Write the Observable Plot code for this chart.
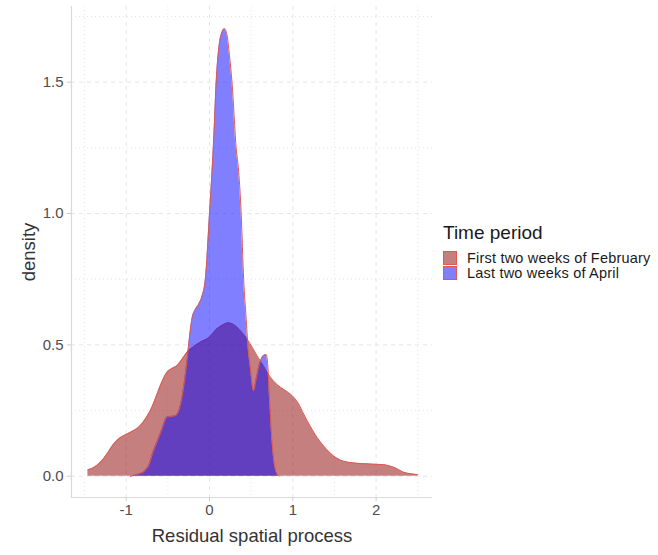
<!DOCTYPE html>
<html>
<head>
<meta charset="utf-8">
<script src="https://cdn.jsdelivr.net/npm/d3@7"></script>
<script src="https://cdn.jsdelivr.net/npm/@observablehq/plot@0.6"></script>
<style>
  html, body { margin: 0; padding: 0; background: #fff; }
  #wrap { position: relative; width: 658px; height: 555px; font-family: "Liberation Sans", Arial, sans-serif; }
  #legend { position: absolute; left: 443px; top: 222px; color: #1a1a1a; }
  #legend .title { font-size: 19px; line-height: 22px; margin-bottom: 7px; }
  #legend .row { display: flex; align-items: center; height: 14.5px; font-size: 14.5px; line-height: 14.5px; letter-spacing: 0.2px; }
  #legend .key { width: 12px; height: 12px; border: 1px solid #e0584e; margin-right: 10px; }
</style>
</head>
<body>
<div id="wrap"></div>
<script>
const seriesNames = ["First two weeks of February", "Last two weeks of April"];
const seriesFills = ["#8b0000", "#0000ff"];
const outlineColor = "#e0584e";

const febX = [-1.46,-1.38,-1.31,-1.23,-1.15,-1.08,-1.0,-0.92,-0.83,-0.77,-0.71,-0.65,-0.59,-0.51,-0.45,-0.39,-0.33,-0.27,-0.19,-0.11,0,0.09,0.16,0.23,0.28,0.33,0.39,0.45,0.51,0.57,0.65,0.73,0.79,0.85,0.93,1.01,1.07,1.13,1.21,1.29,1.37,1.45,1.53,1.61,1.71,1.81,1.95,2.09,2.15,2.21,2.27,2.33,2.42,2.50];
const febY = [0.024,0.035,0.053,0.085,0.123,0.145,0.159,0.172,0.193,0.218,0.25,0.295,0.345,0.396,0.410,0.421,0.445,0.472,0.493,0.51,0.529,0.561,0.576,0.584,0.579,0.567,0.547,0.523,0.492,0.459,0.418,0.377,0.355,0.339,0.322,0.301,0.275,0.237,0.19,0.148,0.115,0.088,0.068,0.057,0.051,0.048,0.046,0.044,0.04,0.034,0.025,0.015,0.009,0.006];

const aprX = [-0.95,-0.85,-0.77,-0.73,-0.68,-0.63,-0.57,-0.51,-0.45,-0.40,-0.35,-0.31,-0.27,-0.24,-0.21,-0.17,-0.13,-0.09,-0.05,0.0,0.03,0.05,0.08,0.12,0.15,0.18,0.21,0.24,0.27,0.32,0.35,0.38,0.41,0.44,0.46,0.49,0.53,0.56,0.59,0.65,0.68,0.70,0.72,0.75,0.79,0.83];
const aprY = [0,0.008,0.022,0.04,0.09,0.13,0.18,0.225,0.228,0.232,0.27,0.34,0.44,0.53,0.60,0.635,0.655,0.685,0.75,1.0,1.16,1.28,1.5,1.65,1.69,1.703,1.68,1.6,1.5,1.25,1.16,1.0,0.75,0.6,0.5,0.415,0.326,0.37,0.415,0.46,0.463,0.42,0.3,0.136,0.028,0];

const xTicks = [-1, 0, 1, 2];
const yTicks = [0, 0.5, 1, 1.5];
const xMinor = [-1.5, -0.5, 0.5, 1.5, 2.5];
const yMinor = [0.25, 0.75, 1.25, 1.75];
const xDomain = [-1.657, 2.677];
const yDomain = [-0.081, 1.788];

const feb = febX.map((x, i) => ({x, y: febY[i]}));
const apr = aprX.map((x, i) => ({x, y: aprY[i]}));

const grid = "#e6e6e6";
const chart = Plot.plot({
  width: 658, height: 555,
  marginLeft: 71, marginRight: 226, marginTop: 6, marginBottom: 58,
  style: {fontFamily: "Liberation Sans, Arial, sans-serif", background: "#fff"},
  x: {domain: xDomain},
  y: {domain: yDomain},
  marks: [
    Plot.ruleX(xMinor, {stroke: grid, strokeDasharray: "1,3", strokeWidth: 1}),
    Plot.ruleY(yMinor, {stroke: grid, strokeDasharray: "1,3", strokeWidth: 1}),
    Plot.ruleX(xTicks, {stroke: grid, strokeDasharray: "4,4", strokeWidth: 1}),
    Plot.ruleY(yTicks, {stroke: grid, strokeDasharray: "4,4", strokeWidth: 1}),
    Plot.areaY(feb, {x: "x", y: "y", fill: seriesFills[0], fillOpacity: 0.5, curve: "monotone-x"}),
    Plot.lineY(feb, {x: "x", y: "y", stroke: outlineColor, strokeWidth: 1, curve: "monotone-x"}),
    Plot.areaY(apr, {x: "x", y: "y", fill: seriesFills[1], fillOpacity: 0.5, curve: "monotone-x"}),
    Plot.lineY(apr, {x: "x", y: "y", stroke: outlineColor, strokeWidth: 1, curve: "monotone-x"}),
    Plot.ruleX([xDomain[0]], {stroke: "#d9d9d9", strokeWidth: 1.2}),
    Plot.ruleY([yDomain[0]], {stroke: "#d9d9d9", strokeWidth: 1.2}),
    Plot.axisX(xTicks, {tickSize: 4, tickPadding: 3, stroke: "#cccccc", fill: "#4d4d4d", fontSize: 15, tickFormat: d => `${d}`, label: null}),
    Plot.axisY(yTicks, {tickSize: 4, tickPadding: 4, stroke: "#cccccc", fill: "#4d4d4d", fontSize: 15, tickFormat: d => d.toFixed(1), label: null}),
    Plot.text(["Residual spatial process"], {frameAnchor: "bottom", dy: 44, fontSize: 18.5, fill: "#333", text: d => d}),
    Plot.text(["density"], {frameAnchor: "left", textAnchor: "middle", lineAnchor: "middle", dx: -42, rotate: -90, fontSize: 18.5, fill: "#333", text: d => d})
  ]
});

const wrap = document.getElementById("wrap");
wrap.appendChild(chart);

const legend = document.createElement("div");
legend.id = "legend";
const title = document.createElement("div");
title.className = "title";
title.textContent = "Time period";
legend.appendChild(title);
seriesNames.forEach((name, i) => {
  const row = document.createElement("div");
  row.className = "row";
  const key = document.createElement("div");
  key.className = "key";
  const c = d3.color(seriesFills[i]);
  c.opacity = 0.5;
  key.style.background = c.formatRgb();
  const label = document.createElement("span");
  label.textContent = name;
  row.appendChild(key);
  row.appendChild(label);
  legend.appendChild(row);
});
wrap.appendChild(legend);
</script>
</body>
</html>
